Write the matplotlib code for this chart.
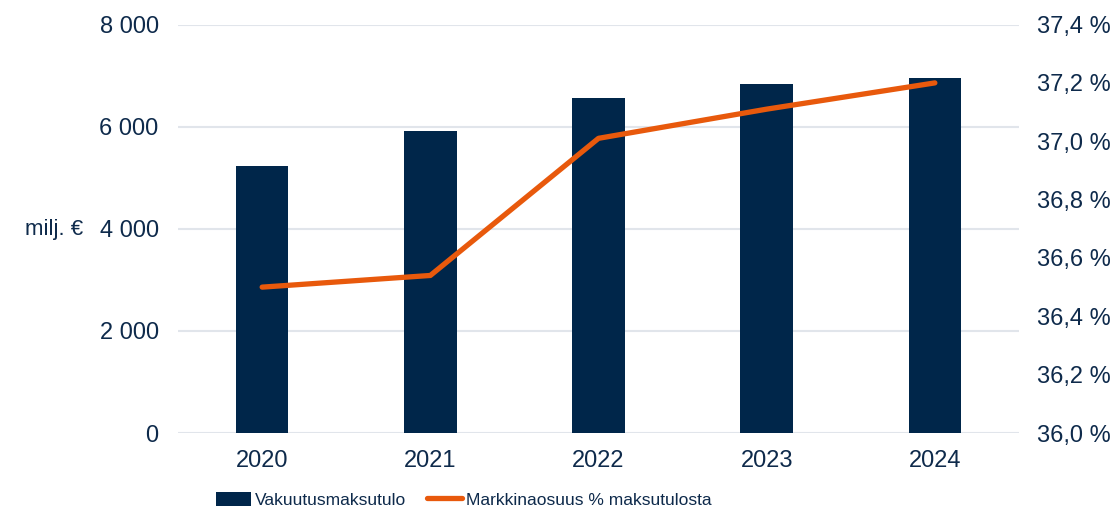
import matplotlib.pyplot as plt
from matplotlib.ticker import FuncFormatter

years = ['2020', '2021', '2022', '2023', '2024']
premiums = [5220, 5910, 6560, 6830, 6960]        # milj. €
market_share = [36.50, 36.54, 37.01, 37.11, 37.20]  # %

navy = '#00264a'
orange = '#e8590c'
text_col = '#0e2a4b'
grid_col = '#e1e5eb'

plt.rcParams['font.family'] = ['Liberation Sans', 'DejaVu Sans']

fig = plt.figure(figsize=(11.13, 5.11), dpi=100)
ax = fig.add_axes([0.16, 0.1526, 0.7555, 0.7994])
ax2 = ax.twinx()

x = range(len(years))
bars = ax.bar(x, premiums, width=0.313, color=navy, label='Vakuutusmaksutulo', zorder=2)
line, = ax2.plot(x, market_share, color=orange, lw=3.8, solid_capstyle='round',
                 label='Markkinaosuus % maksutulosta', zorder=3)

ax.set_xlim(-0.5, len(years) - 0.5)
ax.set_ylim(0, 8000)
ax.set_yticks(range(0, 8001, 2000))
ax.yaxis.set_major_formatter(FuncFormatter(lambda v, p: f'{int(v):,}'.replace(',', ' ')))
ax2.set_ylim(36.0, 37.4)
ax2.set_yticks([36.0, 36.2, 36.4, 36.6, 36.8, 37.0, 37.2, 37.4])
ax2.yaxis.set_major_formatter(FuncFormatter(lambda v, p: f'{v:.1f} %'.replace('.', ',')))

ax.set_xticks(list(x))
ax.set_xticklabels(years)

ax.grid(axis='y', color=grid_col, lw=1.5, zorder=0)
ax.set_axisbelow(True)
for a in (ax, ax2):
    for s in a.spines.values():
        s.set_visible(False)
    a.tick_params(length=0, labelsize=17, labelcolor=text_col)
ax.tick_params(axis='y', pad=14)
ax.tick_params(axis='x', pad=12)
ax2.tick_params(axis='y', pad=13)

fig.text(25 / 1113, 1 - 229 / 511, 'milj. €', fontsize=16, color=text_col, va='center', ha='left')

leg = fig.legend([bars, line], ['Vakuutusmaksutulo', 'Markkinaosuus % maksutulosta'],
                 loc='center left', bbox_to_anchor=(216 / 1113, 1 - 500 / 511), ncol=2,
                 frameon=False, handlelength=2.0, handleheight=0.9,
                 handletextpad=0.25, columnspacing=1.2, borderpad=0, borderaxespad=0,
                 prop={'family': ['Liberation Sans', 'DejaVu Sans'], 'size': 12.5})
for t in leg.get_texts():
    t.set_color(text_col)

fig.savefig('out.png', dpi=100)
